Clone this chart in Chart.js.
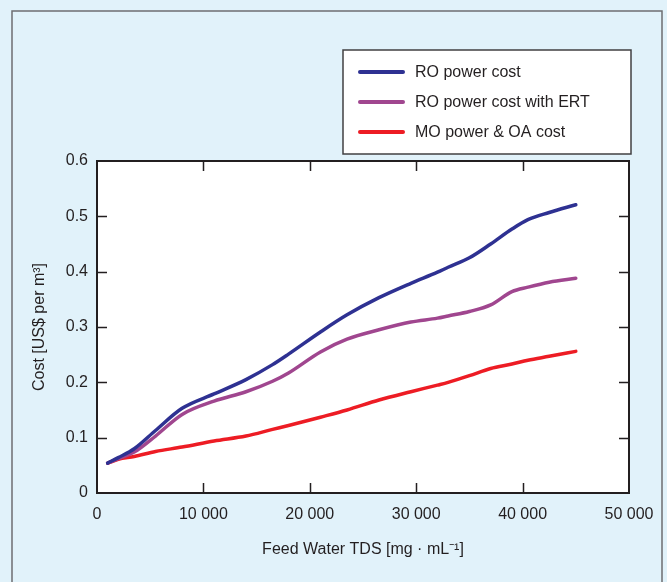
<!DOCTYPE html>
<html>
<head>
<meta charset="utf-8">
<script src="https://cdn.jsdelivr.net/npm/chart.js@4.4.1/dist/chart.umd.min.js"></script>
<style>
  html, body { margin: 0; padding: 0; background: #e1f2fa; }
  canvas { display: block; }
</style>
</head>
<body>
<canvas id="costChart" width="667" height="582"></canvas>
<script>
// feed water TDS [mg/mL] sampled along the curves
const tds = [1000, 2000, 3500, 5500, 8000, 11000, 14000, 16500, 18000, 21000, 23500,
  26500, 29500, 32000, 33000, 35000, 37000, 39000, 40500, 42500, 45000];

const roCost = [0.054, 0.064, 0.080, 0.113, 0.153, 0.179, 0.205, 0.232, 0.251, 0.291, 0.322,
  0.353, 0.379, 0.399, 0.408, 0.425, 0.450, 0.477, 0.494, 0.507, 0.521];
const roErtCost = [0.054, 0.062, 0.074, 0.103, 0.142, 0.166, 0.183, 0.202, 0.217, 0.255, 0.278,
  0.295, 0.309, 0.316, 0.320, 0.328, 0.340, 0.364, 0.372, 0.381, 0.388];
const moCost = [0.054, 0.061, 0.066, 0.075, 0.083, 0.094, 0.103, 0.115, 0.122, 0.137, 0.150,
  0.168, 0.183, 0.195, 0.200, 0.212, 0.225, 0.233, 0.240, 0.247, 0.256];

const seriesNames = ["RO power cost", "RO power cost with ERT", "MO power & OA cost"];
const seriesColors = ["#2e3192", "#a0468f", "#ed1c24"];

const xTicks = [0, 10000, 20000, 30000, 40000, 50000];
const yTicks = [0, 0.1, 0.2, 0.3, 0.4, 0.5, 0.6];

const FONT = "'Liberation Sans', Arial, Helvetica, sans-serif";
const INK = "#231f20";

const toPoints = (vals) => vals.map((v, i) => ({ x: tds[i], y: v }));
const spaced = (v) => String(v).replace(/\B(?=(\d{3})+(?!\d))/g, " ");

// background, white plot area, frame, inward ticks, legend box
const framePlugin = {
  id: "frame",
  beforeDraw: (chart) => {
    const { ctx, chartArea } = chart;
    ctx.save();
    ctx.fillStyle = "#e1f2fa";
    ctx.fillRect(0, 0, chart.width, chart.height);
    ctx.strokeStyle = "#6d6e71";
    ctx.lineWidth = 1.5;
    ctx.strokeRect(12, 11, 650, 620);
    ctx.fillStyle = "#ffffff";
    ctx.fillRect(chartArea.left, chartArea.top,
      chartArea.right - chartArea.left, chartArea.bottom - chartArea.top);
    ctx.restore();
  },
  afterDraw: (chart) => {
    const { ctx, chartArea, scales: { x, y } } = chart;
    const { left, right, top, bottom } = chartArea;
    const tickLen = 10;
    ctx.save();
    ctx.strokeStyle = INK;
    ctx.lineWidth = 1.5;
    ctx.beginPath();
    xTicks.slice(1, -1).forEach((t) => {
      const px = Math.round(x.getPixelForValue(t)) + 0.5;
      ctx.moveTo(px, bottom);
      ctx.lineTo(px, bottom - tickLen);
      ctx.moveTo(px, top);
      ctx.lineTo(px, top + tickLen);
    });
    yTicks.slice(1, -1).forEach((t) => {
      const py = Math.round(y.getPixelForValue(t)) + 0.5;
      ctx.moveTo(left, py);
      ctx.lineTo(left + tickLen, py);
      ctx.moveTo(right, py);
      ctx.lineTo(right - tickLen, py);
    });
    ctx.stroke();
    ctx.lineWidth = 2;
    ctx.strokeRect(left, top, right - left, bottom - top);

    // legend
    ctx.fillStyle = "#ffffff";
    ctx.fillRect(343, 50, 288, 104);
    ctx.strokeStyle = "#414042";
    ctx.lineWidth = 1.5;
    ctx.strokeRect(343, 50, 288, 104);
    ctx.font = "16px " + FONT;
    ctx.textBaseline = "middle";
    ctx.textAlign = "left";
    chart.data.datasets.forEach((ds, i) => {
      const ly = 72 + i * 30;
      ctx.beginPath();
      ctx.strokeStyle = ds.borderColor;
      ctx.lineWidth = 4;
      ctx.lineCap = "round";
      ctx.moveTo(360, ly);
      ctx.lineTo(403, ly);
      ctx.stroke();
      ctx.fillStyle = INK;
      ctx.fillText(ds.label, 415, ly + 1);
    });
    ctx.restore();
  },
};

const makeDataset = (vals, i) => ({
  label: seriesNames[i],
  data: toPoints(vals),
  borderColor: seriesColors[i],
  backgroundColor: seriesColors[i],
  borderWidth: 3.5,
  borderCapStyle: "round",
  borderJoinStyle: "round",
  cubicInterpolationMode: "monotone",
  pointRadius: 0,
  fill: false,
});

new Chart(document.getElementById("costChart"), {
  type: "line",
  data: {
    datasets: [makeDataset(roCost, 0), makeDataset(roErtCost, 1), makeDataset(moCost, 2)],
  },
  plugins: [framePlugin],
  options: {
    responsive: false,
    animation: false,
    layout: { padding: { top: 161, right: 38, left: 0, bottom: 0 } },
    plugins: { legend: { display: false }, tooltip: { enabled: false } },
    scales: {
      x: {
        type: "linear",
        min: 0,
        max: 50000,
        afterBuildTicks: (scale) => { scale.ticks = xTicks.map((v) => ({ value: v })); },
        afterFit: (scale) => { scale.height = 89; },
        grid: { display: false, drawTicks: false },
        border: { display: false },
        ticks: {
          padding: 12,
          color: INK,
          font: { family: FONT, size: 16 },
          maxRotation: 0,
          callback: (v) => spaced(v),
        },
        title: {
          display: true,
          text: "Feed Water TDS [mg · mL⁻¹]",
          color: INK,
          font: { family: FONT, size: 16 },
          padding: { top: 0, bottom: 23 },
        },
      },
      y: {
        min: 0,
        max: 0.6,
        afterBuildTicks: (scale) => { scale.ticks = yTicks.map((v) => ({ value: v })); },
        afterFit: (scale) => { scale.width = 97; },
        grid: { display: false, drawTicks: false },
        border: { display: false },
        ticks: {
          padding: 9,
          color: INK,
          font: { family: FONT, size: 16 },
          callback: (v) => (v === 0 ? "0" : v.toFixed(1)),
        },
        title: {
          display: true,
          text: "Cost [US$ per m³]",
          color: INK,
          font: { family: FONT, size: 16 },
          padding: { top: 30, bottom: 0 },
        },
      },
    },
  },
});
</script>
</body>
</html>
